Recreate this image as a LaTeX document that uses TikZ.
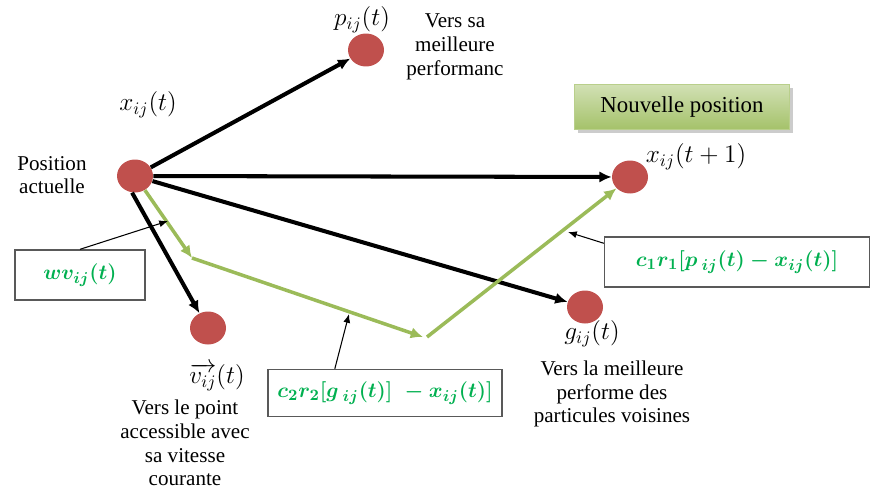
\documentclass[tikz,border=0pt]{standalone}
\usepackage{amsmath}
\usepackage{fontspec}
\setmainfont{Liberation Serif}
\usetikzlibrary{arrows.meta,shapes.geometric,shadows}
\definecolor{pointrouge}{HTML}{C0504D}
\definecolor{traitvert}{HTML}{9BBB59}
\definecolor{textevert}{HTML}{00B050}
\definecolor{cadregris}{HTML}{595959}
\begin{document}
\begin{tikzpicture}[x=0.02cm,y=-0.02cm,
    particule/.style={ellipse,fill=pointrouge,minimum width=0.72cm,minimum height=0.66cm,inner sep=0pt},
    fleche/.style={line width=2.3pt,-{Latex[length=7pt,width=6.5pt]}},
    flechevert/.style={traitvert,line width=2pt,-{Latex[length=7pt,width=6.5pt]}},
    renvoi/.style={line width=0.6pt,-{Latex[length=5pt,width=4pt]}},
    cadre/.style={draw=cadregris,line width=0.8pt,fill=white,inner sep=0pt,font=\fontsize{12.5}{15}\selectfont},
    legende/.style={align=center,font=\fontsize{12}{13.5}\selectfont},
    formule/.style={inner sep=1pt,font=\fontsize{14}{16}\selectfont}]
  \useasboundingbox (0,0) rectangle (871,490);
  % les particules
  \node[particule] (xc) at (135,176) {};
  \node[particule] (p) at (366,50) {};
  \node[particule] (xn) at (630,177) {};
  \node[particule] (g) at (585,307) {};
  \node[particule] (v) at (208,328) {};
  % les textes
  \node[formule] (lx) at (148,105) {$x_{ij}(t)$};
  \node[formule] (lp) at (362,20) {$p_{ij}(t)$};
  \node[formule] (lxn) at (696,157) {$x_{ij}(t+1)$};
  \node[formule] (lg) at (592,334) {$g_{ij}(t)$};
  \node[formule] (lv) at (217,377) {$\overrightarrow{v_{ij}}(t)$};
  \node[legende] (tpos) at (52,175) {Position\\actuelle};
  \node[legende] (tp) at (455,47) {Vers sa\\meilleure\\performanc};
  \node[legende] (tg) at (612,394) {Vers la meilleure\\performe des\\particules voisines};
  \node[legende] (tv) at (185,443) {Vers le point\\accessible avec\\sa vitesse\\courante};
  \node[draw=traitvert!70!white,top color=traitvert!45!white,bottom color=traitvert!90!white,
        drop shadow={shadow xshift=2pt,shadow yshift=-2pt,opacity=0.4},
        minimum width=4.3cm,minimum height=0.9cm,font=\fontsize{13}{15}\selectfont] (nouv) at (682,107) {Nouvelle position};
  % les cadres
  \node[cadre,minimum width=2.6cm,minimum height=1cm] (wvbox) at (80,275)
    {\textcolor{textevert}{$\boldsymbol{wv_{ij}(t)}$}};
  \node[cadre,minimum width=5.3cm,minimum height=1cm] (c1box) at (737,262)
    {\textcolor{textevert}{$\boldsymbol{c_1r_1[p\,_{ij}(t)-x_{ij}(t)]}$}};
  \node[cadre,minimum width=4.68cm,minimum height=0.94cm] (c2box) at (385,393)
    {\textcolor{textevert}{$\boldsymbol{c_2r_2[g\,_{ij}(t)]\;-x_{ij}(t)]}$}};
  % les deplacements
  \draw[fleche] (xc) -- (p);
  \draw[fleche] (xc) -- (xn);
  \draw[fleche] (xc) -- (g);
  \draw[fleche] (xc.-100) -- (v.120);
  \coordinate (k1) at (192,258);
  \coordinate (k2) at (423,337);
  \coordinate (k3) at (427,337);
  \draw[flechevert] (xc.-55) -- (k1);
  \draw[flechevert] (k1) -- (k2);
  \draw[flechevert] (k3) -- (xn.-140);
  % les renvois
  \coordinate (wvtip) at (168,221);
  \coordinate (c1tip) at (568,232);
  \coordinate (c2tip) at (349,314);
  \draw[renvoi] (wvbox.north) -- (wvtip);
  \draw[renvoi] (c1box.172) -- (c1tip);
  \draw[renvoi] ([xshift=1.35cm]c2box.north west) -- (c2tip);
\end{tikzpicture}
\end{document}
